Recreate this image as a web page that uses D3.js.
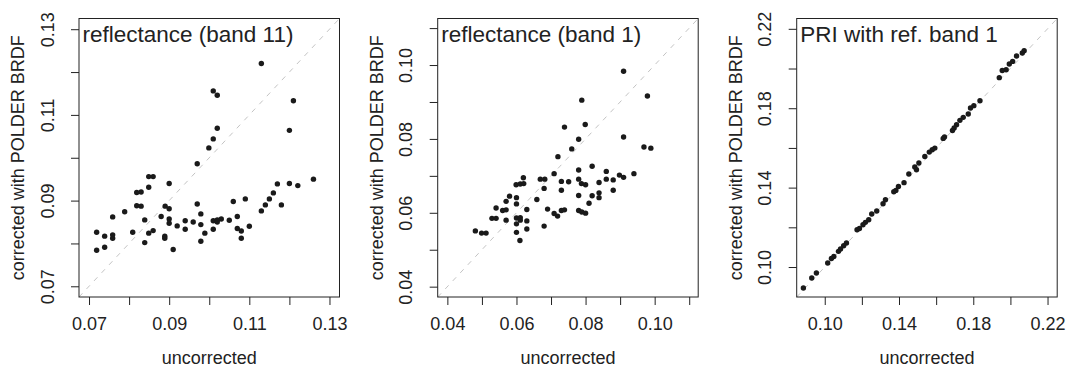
<!DOCTYPE html>
<html><head><meta charset="utf-8">
<script src="https://cdn.jsdelivr.net/npm/d3@7"></script>
<style>body{margin:0;background:#fff}svg{display:block}</style>
</head><body>
<script>
// ---- data ----
const titles = ["reflectance (band 11)", "reflectance (band 1)", "PRI with ref. band 1"];
const xTitle = "uncorrected";
const yTitle = "corrected with POLDER BRDF";
const limits = [[0.0675, 0.1325], [0.0372, 0.1126], [0.0849, 0.2252]];
const tickValues = [
  [0.07,0.08,0.09,0.10,0.11,0.12,0.13],
  [0.04,0.05,0.06,0.07,0.08,0.09,0.10,0.11],
  [0.10,0.12,0.14,0.16,0.18,0.20,0.22]
];
const tickLabels = [
  ["0.07","","0.09","","0.11","","0.13"],
  ["0.04","","0.06","","0.08","","0.10",""],
  ["0.10","","0.14","","0.18","","0.22"]
];
const band11X = [0.1130,0.1010,0.1020,0.1210,0.1020,0.1200,0.1010,0.0999,0.0970,0.0849,0.0860,0.0900,0.0849,0.0819,0.0830,0.1260,0.1200,0.1170,0.1221,0.1160,0.1090,0.1150,0.1060,0.0970,0.1140,0.1180,0.0819,0.0830,0.0890,0.0900,0.0789,0.1130,0.0979,0.0759,0.0880,0.1070,0.0900,0.0839,0.0940,0.0960,0.1010,0.1020,0.1030,0.1020,0.1050,0.0900,0.0979,0.0920,0.1100,0.1070,0.0940,0.1010,0.0860,0.1080,0.0849,0.0719,0.0809,0.0989,0.0739,0.0759,0.0759,0.0889,0.0889,0.1080,0.0839,0.0979,0.0739,0.0719,0.0910];
const band11Y = [0.1220,0.1156,0.1146,0.1133,0.1069,0.1064,0.1044,0.1023,0.0986,0.0956,0.0956,0.0940,0.0931,0.0919,0.0920,0.0950,0.0940,0.0939,0.0935,0.0918,0.0904,0.0904,0.0898,0.0892,0.0890,0.0890,0.0888,0.0887,0.0887,0.0881,0.0874,0.0876,0.0869,0.0862,0.0863,0.0863,0.0857,0.0855,0.0853,0.0850,0.0853,0.0855,0.0857,0.0850,0.0854,0.0847,0.0844,0.0841,0.0840,0.0835,0.0833,0.0833,0.0830,0.0829,0.0824,0.0826,0.0826,0.0824,0.0817,0.0820,0.0812,0.0817,0.0812,0.0812,0.0802,0.0805,0.0791,0.0784,0.0786];
const band1X = [0.0910,0.0979,0.0789,0.0739,0.0799,0.0910,0.0780,0.0969,0.0989,0.0760,0.0720,0.0819,0.0780,0.0860,0.0709,0.0898,0.0910,0.0940,0.0620,0.0599,0.0611,0.0621,0.0669,0.0682,0.0780,0.0860,0.0880,0.0730,0.0751,0.0788,0.0800,0.0839,0.0680,0.0730,0.0880,0.0580,0.0600,0.0570,0.0780,0.0819,0.0839,0.0839,0.0659,0.0810,0.0600,0.0560,0.0570,0.0541,0.0630,0.0690,0.0730,0.0739,0.0780,0.0789,0.0800,0.0709,0.0719,0.0529,0.0541,0.0570,0.0600,0.0611,0.0611,0.0630,0.0600,0.0680,0.0630,0.0481,0.0499,0.0512,0.0600,0.0610];
const band1Y = [0.0983,0.0916,0.0905,0.0832,0.0839,0.0805,0.0799,0.0778,0.0775,0.0773,0.0752,0.0726,0.0716,0.0712,0.0706,0.0702,0.0696,0.0706,0.0695,0.0676,0.0678,0.0679,0.0691,0.0691,0.0691,0.0691,0.0689,0.0685,0.0684,0.0679,0.0676,0.0682,0.0666,0.0661,0.0661,0.0645,0.0641,0.0631,0.0647,0.0646,0.0654,0.0641,0.0636,0.0626,0.0624,0.0606,0.0608,0.0613,0.0609,0.0610,0.0606,0.0608,0.0606,0.0602,0.0599,0.0598,0.0591,0.0585,0.0585,0.0580,0.0586,0.0587,0.0580,0.0578,0.0570,0.0564,0.0556,0.0551,0.0545,0.0545,0.0547,0.0525];
const priX = [0.2074,0.2064,0.2033,0.2012,0.1994,0.1977,0.1956,0.1940,0.1836,0.1803,0.1785,0.1773,0.1746,0.1728,0.1710,0.1697,0.1688,0.1645,0.1638,0.1593,0.1579,0.1563,0.1539,0.1507,0.1485,0.1494,0.1453,0.1427,0.1397,0.1383,0.1372,0.1327,0.1314,0.1280,0.1253,0.1237,0.1219,0.1206,0.1187,0.1174,0.1117,0.1102,0.1085,0.1074,0.1049,0.1036,0.1016,0.0955,0.0930,0.0885];
const priY = [0.2090,0.2078,0.2063,0.2036,0.2023,0.1994,0.1990,0.1954,0.1838,0.1813,0.1801,0.1771,0.1754,0.1739,0.1717,0.1700,0.1688,0.1655,0.1648,0.1599,0.1591,0.1579,0.1557,0.1524,0.1504,0.1490,0.1469,0.1425,0.1406,0.1386,0.1379,0.1339,0.1319,0.1282,0.1267,0.1238,0.1225,0.1213,0.1194,0.1188,0.1121,0.1107,0.1091,0.1079,0.1053,0.1043,0.1020,0.0970,0.0945,0.0894];
const seriesX = [band11X, band1X, priX];
const seriesY = [band11Y, band1Y, priY];

// ---- layout ----
const W = 1068, H = 367;
const boxLefts = [79, 437.7, 796.7];
const boxW = 260.5, boxTop = 18.5, boxBottom = 297;
const font = "'Liberation Sans', Arial, Helvetica, sans-serif";
const ink = "#222";
const fs = "18px";

const svg = d3.select("body").append("svg").attr("width", W).attr("height", H)
  .style("font-family", font);

for (let p = 0; p < 3; p++) {
  const L = boxLefts[p], R = L + boxW;
  const x = d3.scaleLinear().domain(limits[p]).range([L, R]);
  const y = d3.scaleLinear().domain(limits[p]).range([boxBottom, boxTop]);
  const g = svg.append("g");

  // diagonal 1:1 line
  g.append("line")
    .attr("x1", x(limits[p][0])).attr("y1", y(limits[p][0]))
    .attr("x2", x(limits[p][1])).attr("y2", y(limits[p][1]))
    .attr("stroke", "#c4c4c4").attr("stroke-width", 1).attr("stroke-dasharray", "5,6");

  // points
  g.selectAll("circle").data(seriesX[p].map((v, i) => [v, seriesY[p][i]]))
    .enter().append("circle")
    .attr("cx", d => x(d[0])).attr("cy", d => y(d[1])).attr("r", 2.7)
    .attr("fill", "#1a1a1a");

  // box
  g.append("rect").attr("x", L).attr("y", boxTop).attr("width", boxW).attr("height", boxBottom - boxTop)
    .attr("fill", "none").attr("stroke", ink).attr("stroke-width", 1);

  const labFor = v => { const i = tickValues[p].indexOf(v); return tickLabels[p][i]; };

  // x axis
  const xa = g.append("g").attr("transform", `translate(0,${boxBottom})`)
    .call(d3.axisBottom(x).tickValues(tickValues[p]).tickSize(8).tickPadding(4).tickFormat(labFor));
  xa.select(".domain").remove();
  xa.selectAll("line").attr("stroke", ink);
  xa.selectAll("text").attr("fill", ink).style("font-size", fs).style("font-family", font)
    .attr("dy", null).attr("y", 32.8);

  // y axis
  const ya = g.append("g").attr("transform", `translate(${L},0)`)
    .call(d3.axisLeft(y).tickValues(tickValues[p]).tickSize(8).tickFormat(labFor));
  ya.select(".domain").remove();
  ya.selectAll("line").attr("stroke", ink);
  ya.selectAll("text").attr("fill", ink).style("font-size", fs).style("font-family", font)
    .attr("x", null).attr("dy", null).attr("text-anchor", "middle")
    .attr("transform", "translate(-25.5,0) rotate(-90)");

  // panel title
  g.append("text").attr("x", L + 3.5).attr("y", 41.5).text(titles[p])
    .attr("fill", ink).style("font-size", "22.5px");

  // axis titles
  g.append("text").attr("x", (L + R) / 2).attr("y", 364).attr("text-anchor", "middle")
    .text(xTitle).attr("fill", ink).style("font-size", fs);
  g.append("text").attr("transform", `translate(${L - 55},${(boxTop + boxBottom) / 2}) rotate(-90)`)
    .attr("text-anchor", "middle").text(yTitle).attr("fill", ink).style("font-size", fs);
}
</script>
</body></html>
